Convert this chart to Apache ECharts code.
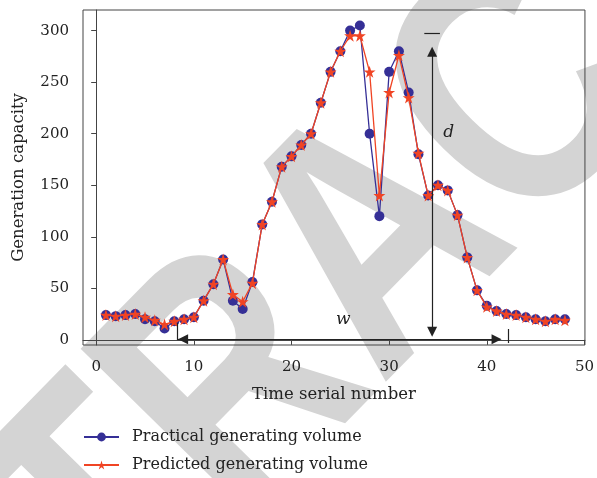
<!DOCTYPE html>
<html><head><meta charset="utf-8">
<script src="https://cdn.jsdelivr.net/npm/echarts@6/dist/echarts.min.js"></script>
<style>html,body{margin:0;padding:0;background:#fff}#c{width:597px;height:478px}</style>
</head><body><div id="c"></div>
<script>
// ---- data ----
const timeSerial = [1,2,3,4,5,6,7,8,9,10,11,12,13,14,15,16,17,18,19,20,21,22,23,24,25,26,27,28,29,30,31,32,33,34,35,36,37,38,39,40,41,42,43,44,45,46,47,48];
const practical  = [24,23,24,25,20,18,11,18,20,22,38,54,78,38,30,56,112,134,168,178,189,200,230,260,280,300,305,200,120,260,280,240,180,140,150,145,121,80,48,33,28,25,24,22,20,18,20,20];
const predicted  = [24,23,24,25,22,19,15,18,20,22,38,54,78,44,37,55,112,134,168,178,189,200,230,260,280,295,295,260,140,240,276,235,181,140,150,145,121,80,48,32,28,25,24,22,20,18,20,19];
const xTickValues = [0,10,20,30,40,50];
const yTickValues = [0,50,100,150,200,250,300];
const seriesNames = ['Practical generating volume','Predicted generating volume'];
// annotation anchors (data units)
const dArrowX = 34.4, dArrowBottom = 7.9, dArrowTop = 279.5, dBarY = 297.3, dBarX = [33.6, 35.2];
const wArrowY = 0.6, wArrowLeft = 8.9, wArrowRight = 41.0;
const wLeftBar = [8.35, -0.2, 16.3], wRightBar = [42.2, -3.1, 10.5];
const dLabel = [36.1, 200.6], wLabel = [25.3, 19.2];

const BLUE = '#352f96', RED = '#f04424', INK = '#222';
const SERIF = '"DejaVu Serif", serif';
const STAR = 'path://M50,0L61.2,34.5L97.6,34.5L68.2,55.9L79.4,90.5L50,69.1L20.6,90.5L31.8,55.9L2.4,34.5L38.8,34.5Z';

const pairs = arr => timeSerial.map((t, i) => [t, arr[i]]);
const chart = echarts.init(document.getElementById('c'), null, {renderer: 'canvas'});
const annLine = {color: INK, width: 1.2, type: 'solid'};
const arrowHead = {symbol: 'triangle', symbolSize: [10, 10]};

chart.setOption({
  animation: false,
  backgroundColor: '#fff',
  graphic: [{
    type: 'text', silent: true, z: -10,
    x: 383, y: 247, rotation: 45.5 * Math.PI / 180, scaleX: 0.8,
    style: {text: 'RETRACTED', font: 'bold 350px "Liberation Sans"', fill: '#d4d4d4', align: 'center', verticalAlign: 'middle'}
  }],
  grid: {left: 83, right: 7, top: 10, bottom: 133, show: true, borderColor: '#444', borderWidth: 1, backgroundColor: 'transparent'},
  legend: {
    orient: 'vertical', left: 83, top: 429, padding: 0, itemWidth: 35, itemHeight: 11, itemGap: 12,
    data: seriesNames,
    textStyle: {fontFamily: SERIF, fontSize: 16, lineHeight: 16, color: INK, padding: [0, 0, 0, 8]}
  },
  xAxis: {
    type: 'value', min: -1.35, max: 50.05,
    name: 'Time serial number', nameLocation: 'middle', nameGap: 41,
    nameTextStyle: {fontFamily: SERIF, fontSize: 16.5, color: INK},
    axisLine: {show: true, lineStyle: {color: '#444', width: 1}},
    axisTick: {show: true, inside: false, length: 5, customValues: xTickValues, lineStyle: {color: '#444'}},
    axisLabel: {customValues: xTickValues, margin: 15, fontFamily: SERIF, fontSize: 15, color: INK},
    splitLine: {show: false}
  },
  yAxis: {
    type: 'value', min: -5, max: 320,
    name: 'Generation capacity', nameLocation: 'middle', nameGap: 56,
    nameTextStyle: {fontFamily: SERIF, fontSize: 16.5, color: INK},
    axisLine: {show: true, lineStyle: {color: '#444', width: 1}},
    axisTick: {show: true, inside: false, length: 5, customValues: yTickValues, lineStyle: {color: '#444'}},
    axisLabel: {customValues: yTickValues, margin: 14, fontFamily: SERIF, fontSize: 15, color: INK},
    splitLine: {show: false}
  },
  series: [
    {
      name: seriesNames[0], type: 'line', data: pairs(practical), z: 2,
      symbol: 'circle', symbolSize: 10, showAllSymbol: true,
      lineStyle: {color: BLUE, width: 1.3}, itemStyle: {color: BLUE}
    },
    {
      name: seriesNames[1], type: 'line', data: pairs(predicted), z: 3,
      symbol: STAR, symbolSize: 12, showAllSymbol: true,
      lineStyle: {color: RED, width: 1.3}, itemStyle: {color: RED}
    },
    {
      name: 'annotations', type: 'line', data: [], z: 4, silent: true,
      markLine: {
        silent: true, animation: false,
        label: {show: false},
        lineStyle: annLine,
        data: [
          [Object.assign({coord: [dArrowX, dArrowBottom]}, arrowHead), Object.assign({coord: [dArrowX, dArrowTop]}, arrowHead)],
          [{coord: [dBarX[0], dBarY], symbol: 'none'}, {coord: [dBarX[1], dBarY], symbol: 'none'}],
          [Object.assign({coord: [wArrowLeft, wArrowY]}, arrowHead), Object.assign({coord: [wArrowRight, wArrowY]}, arrowHead)],
          [{coord: [wArrowLeft, wArrowY], symbol: 'none'}, {coord: [wLeftBar[0], wArrowY], symbol: 'none'}],
          [{coord: [wLeftBar[0], wLeftBar[1]], symbol: 'none'}, {coord: [wLeftBar[0], wLeftBar[2]], symbol: 'none'}],
          [{coord: [wRightBar[0], wRightBar[1]], symbol: 'none'}, {coord: [wRightBar[0], wRightBar[2]], symbol: 'none'}]
        ]
      },
      markPoint: {
        silent: true, animation: false,
        symbol: 'circle', symbolSize: 1, itemStyle: {color: 'rgba(0,0,0,0)'},
        label: {show: true, position: 'inside', formatter: p => p.name, fontFamily: SERIF, fontStyle: 'italic', fontSize: 17, color: INK},
        data: [{name: 'd', coord: dLabel}, {name: 'w', coord: wLabel}]
      }
    }
  ]
});
</script>
</body></html>
